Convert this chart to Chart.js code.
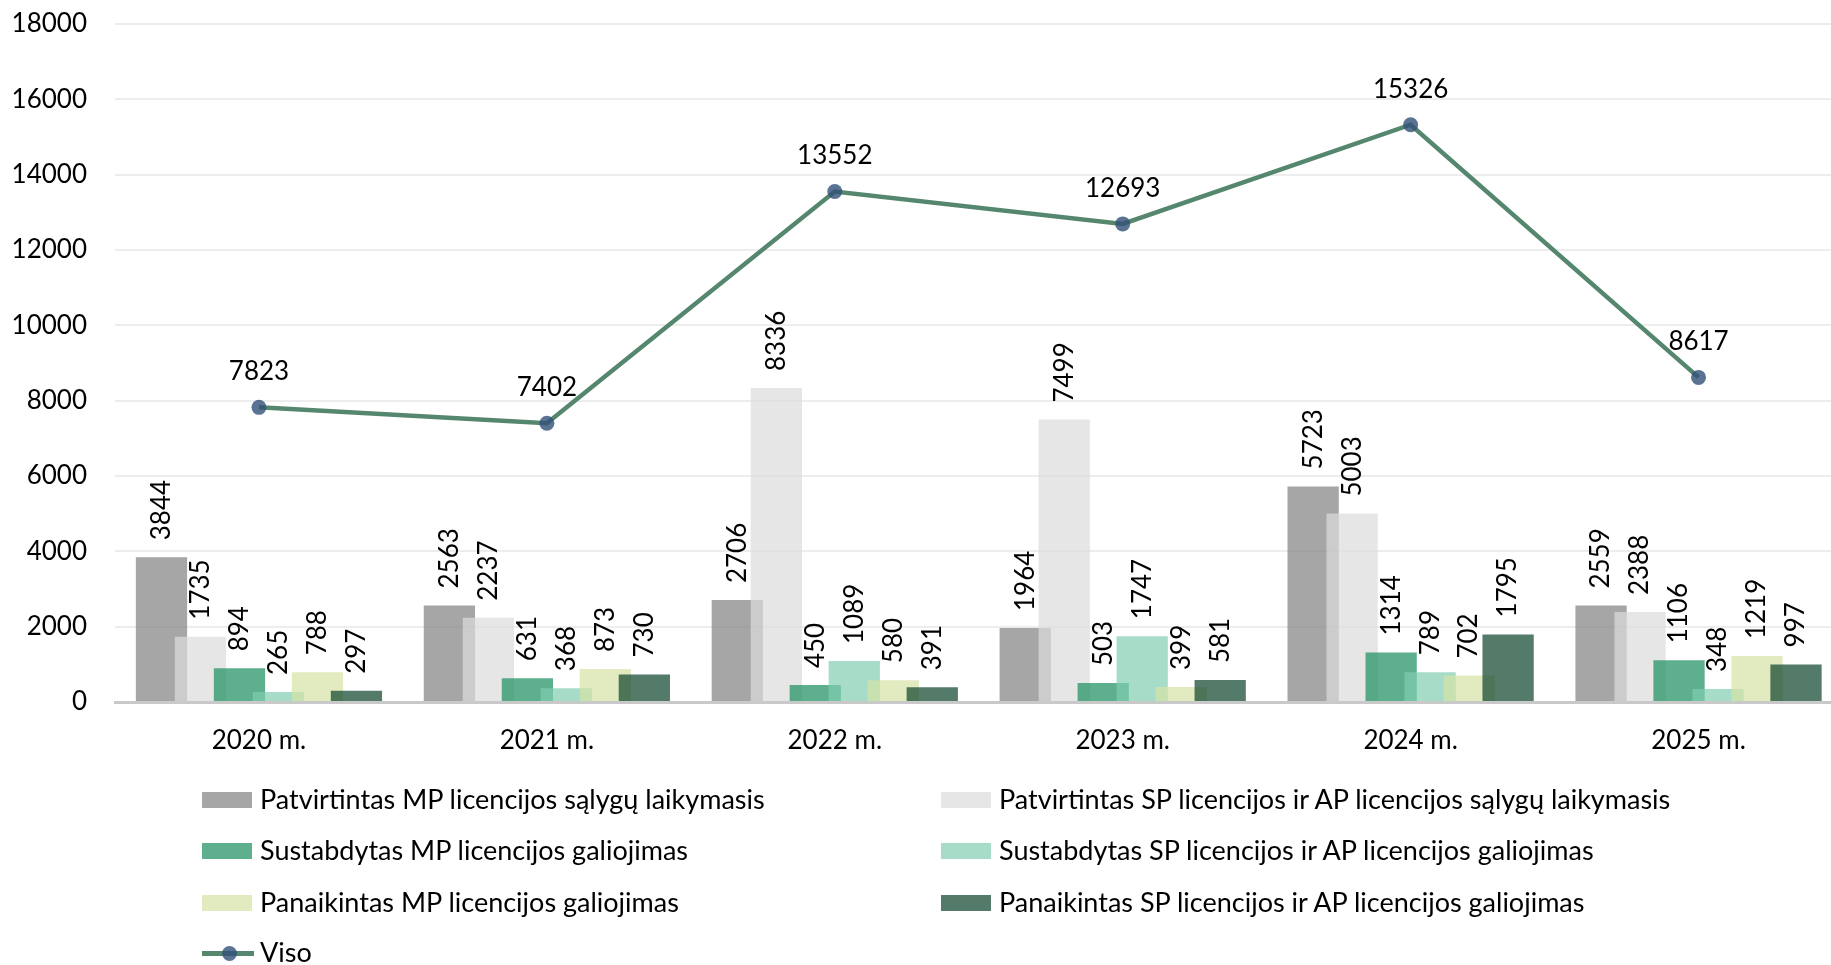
<!DOCTYPE html>
<html><head><meta charset="utf-8">
<script src="https://cdn.jsdelivr.net/npm/chart.js@4.4.1/dist/chart.umd.min.js"></script>
<style>
html,body{margin:0;padding:0;background:#fff;overflow:hidden;width:1831px;height:965px}
#wrap{position:relative;width:1850px;height:965px}
#c{position:absolute;left:0;top:0}
.sw{position:absolute;height:16px;width:50px;margin-top:-8px}
.tx{position:absolute;font-family:Lato;font-size:27px;color:#000;white-space:nowrap;line-height:32px;margin-top:-17px}
.ln{position:absolute;height:5px;width:52px;margin-top:-2.5px;background:#55876f}
.dot{position:absolute;width:15px;height:15px;margin-top:-7.5px;margin-left:-7.5px;border-radius:50%;background:rgba(50,80,120,0.8)}
</style></head><body>
<div id="wrap"><canvas id="c" width="1850" height="965" style="width:1850px;height:965px"></canvas><div id="legend"></div></div>
<script>
const categories = ['2020 m.','2021 m.','2022 m.','2023 m.','2024 m.','2025 m.'];
const patvirtintasMP = [3844, 2563, 2706, 1964, 5723, 2559];
const patvirtintasSP = [1735, 2237, 8336, 7499, 5003, 2388];
const sustabdytasMP = [894, 631, 450, 503, 1314, 1106];
const sustabdytasSP = [265, 368, 1089, 1747, 789, 348];
const panaikintasMP = [788, 873, 580, 399, 702, 1219];
const panaikintasSP = [297, 730, 391, 581, 1795, 997];
const viso = [7823, 7402, 13552, 12693, 15326, 8617];
const yTicks = [0, 2000, 4000, 6000, 8000, 10000, 12000, 14000, 16000, 18000];

const seriesNames = [
  'Patvirtintas MP licencijos sąlygų laikymasis',
  'Patvirtintas SP licencijos ir AP licencijos sąlygų laikymasis',
  'Sustabdytas MP licencijos galiojimas',
  'Sustabdytas SP licencijos ir AP licencijos galiojimas',
  'Panaikintas MP licencijos galiojimas',
  'Panaikintas SP licencijos ir AP licencijos galiojimas',
  'Viso'
];
const barColors = [
  'rgba(128,128,128,0.7)',
  'rgba(219,219,219,0.7)',
  'rgba(24,141,94,0.7)',
  'rgba(128,205,176,0.7)',
  'rgba(214,226,165,0.7)',
  'rgba(12,65,42,0.7)'
];
const lineColor = '#55876f';
const FONT = 'Lato';

const barData = [patvirtintasMP, patvirtintasSP, sustabdytasMP, sustabdytasSP, panaikintasMP, panaikintasSP];

const datasets = barData.map((d, i) => ({
  label: seriesNames[i], data: d, backgroundColor: barColors[i], borderWidth: 0,
  categoryPercentage: 0.8125, barPercentage: 1.315
}));
datasets.push({
  type: 'line', label: seriesNames[6], data: viso, borderColor: lineColor, borderWidth: 4.5,
  pointRadius: 7.5, pointBackgroundColor: 'rgba(50,80,120,0.8)', pointBorderWidth: 0, tension: 0
});

const labelPlugin = {
  id: 'labels',
  beforeDatasetsDraw(chart) {
    chart.data.datasets.forEach((ds, i) => {
      if (ds.type !== 'line') { const m = chart.getDatasetMeta(i); if (!m.hidden) m.controller.draw(); }
    });
  },
  beforeDatasetDraw(chart, args) {
    if (chart.data.datasets[args.index].type !== 'line') return false;
  },
  afterDatasetsDraw(chart) {
    const ctx = chart.ctx; ctx.save(); ctx.fillStyle = '#000'; ctx.font = '26px ' + FONT;
    chart.data.datasets.forEach((ds, i) => {
      const m = chart.getDatasetMeta(i);
      m.data.forEach((el, j) => {
        const v = ds.data[j];
        if (ds.type === 'line') {
          ctx.textAlign = 'center'; ctx.textBaseline = 'middle';
          ctx.fillText(String(v), el.x, el.y - 35.5);
        } else {
          ctx.save(); ctx.translate(el.x, el.y - 17); ctx.rotate(-Math.PI / 2);
          ctx.textAlign = 'left'; ctx.textBaseline = 'middle';
          ctx.fillText(String(v), 0, 0); ctx.restore();
        }
      });
    });
    ctx.restore();
  }
};

function build() {
  Chart.defaults.font.family = FONT;
  Chart.defaults.font.size = 26;
  Chart.defaults.color = '#000';
  new Chart(document.getElementById('c'), {
    type: 'bar',
    data: { labels: categories, datasets },
    options: {
      responsive: false, animation: false,
      layout: { padding: { top: 24, left: 0, right: 0, bottom: 0 } },
      plugins: { legend: { display: false }, tooltip: { enabled: false } },
      scales: {
        x: {
          grid: { display: false, drawTicks: false },
          border: { display: true, color: '#c9c9c9', width: 3 },
          ticks: { padding: 23, font: { size: 26 } },
          afterFit(s) { s.height = 263; s.paddingLeft = 0; s.paddingRight = 0; }
        },
        y: {
          min: 0, max: 18000,
          afterBuildTicks(s) { s.ticks = yTicks.map(v => ({ value: v })); },
          grid: { color: '#ededed', lineWidth: 2, drawTicks: false },
          border: { display: false },
          ticks: { padding: 28, font: { size: 26 }, callback: v => String(v) },
          afterFit(s) { s.width = 115; s.paddingTop = 0; s.paddingBottom = 0; }
        }
      }
    },
    plugins: [labelPlugin]
  });

  // legend
  const lg = document.getElementById('legend');
  const rows = [800, 851, 903];
  const cols = [202, 941];
  let html = '';
  for (let i = 0; i < 6; i++) {
    const x = cols[i % 2], y = rows[Math.floor(i / 2)];
    html += `<div class="sw" style="left:${x}px;top:${y}px;background:${barColors[i]}"></div>`;
    html += `<div class="tx" style="left:${x + 58}px;top:${y}px">${seriesNames[i]}</div>`;
  }
  html += `<div class="ln" style="left:202px;top:953px"></div><div class="dot" style="left:229px;top:953px"></div>`;
  html += `<div class="tx" style="left:260px;top:953px">${seriesNames[6]}</div>`;
  lg.innerHTML = html;
}
if (document.fonts && document.fonts.load) {
  document.fonts.load('26px ' + FONT).then(build, build);
} else build();
</script>
</body></html>
